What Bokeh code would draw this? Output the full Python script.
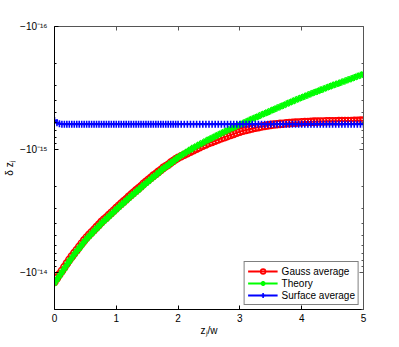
import numpy as np
from bokeh.plotting import figure
from bokeh.models import (Range1d, FixedTicker, LinearAxis, LogAxis,
                          CustomJSTickFormatter, Legend, LegendItem)
from bokeh.embed import file_html
from bokeh.resources import INLINE

# ---------------- data (|delta z_j| in units of 1e-16; actual values are negative) -------------
x_dense = np.round(np.arange(0.0, 2.0 - 1e-9, 0.04), 2)      # 50 samples, 0 .. 1.96
x_sparse = np.round(np.arange(2.0, 5.0 + 1e-9, 0.05), 2)     # 61 samples, 2 .. 5

gauss_dense = [118.9, 111.0, 103.5, 96.8, 90.4, 84.3, 78.9, 74.0, 69.6, 65.6,
               61.8, 58.2, 54.8, 51.9, 49.4, 47.1, 44.9, 42.8, 40.8, 38.8,
               37.1, 35.7, 34.1, 32.7, 31.3, 29.9, 28.7, 27.5, 26.4, 25.4,
               24.3, 23.3, 22.4, 21.5, 20.7, 19.9, 19.0, 18.3, 17.6, 17.0,
               16.3, 15.8, 15.2, 14.7, 14.1, 13.7, 13.3, 12.8, 12.4, 12.0]
gauss_sparse = [11.69, 11.35, 11.04, 10.72, 10.42, 10.12, 9.84, 9.59, 9.33, 9.10,
                8.85, 8.67, 8.47, 8.30, 8.11, 7.94, 7.78, 7.62, 7.46, 7.31,
                7.16, 7.05, 6.95, 6.84, 6.75, 6.64, 6.58, 6.50, 6.44, 6.37,
                6.31, 6.27, 6.24, 6.19, 6.17, 6.12, 6.10, 6.07, 6.05, 6.03,
                6.00, 5.98, 5.97, 5.96, 5.94, 5.93, 5.92, 5.92, 5.90, 5.90,
                5.89, 5.89, 5.88, 5.88, 5.86, 5.86, 5.86, 5.85, 5.85, 5.83, 5.83]

theory_dense = [121.9, 113.8, 106.2, 99.3, 92.7, 86.5, 80.9, 75.9, 71.4, 67.3,
                63.4, 59.7, 56.2, 53.2, 50.7, 48.3, 46.0, 43.9, 41.8, 39.8,
                38.1, 36.6, 35.0, 33.5, 32.1, 30.7, 29.4, 28.2, 27.1, 26.0,
                24.9, 23.9, 23.0, 22.1, 21.2, 20.4, 19.5, 18.8, 18.1, 17.4,
                16.7, 16.1, 15.5, 14.9, 14.3, 13.8, 13.4, 12.9, 12.5, 12.0]
theory_sparse = [11.61, 11.19, 10.79, 10.40, 10.02, 9.66, 9.38, 9.08, 8.81, 8.53,
                 8.28, 8.05, 7.82, 7.60, 7.38, 7.18, 6.98, 6.79, 6.62, 6.44,
                 6.27, 6.11, 5.94, 5.79, 5.64, 5.50, 5.36, 5.22, 5.09, 4.97,
                 4.84, 4.72, 4.60, 4.49, 4.38, 4.27, 4.16, 4.06, 3.96, 3.87,
                 3.78, 3.69, 3.61, 3.52, 3.44, 3.37, 3.29, 3.22, 3.15, 3.08,
                 3.01, 2.95, 2.89, 2.83, 2.77, 2.71, 2.66, 2.60, 2.54, 2.49, 2.44]

surface_dense = [5.80, 6.05, 6.18, 6.22, 6.22, 6.22, 6.22, 6.22, 6.22, 6.22,
                 6.22, 6.22, 6.22, 6.22, 6.22, 6.22, 6.22, 6.22, 6.22, 6.22,
                 6.22, 6.22, 6.22, 6.22, 6.22, 6.22, 6.22, 6.22, 6.22, 6.22,
                 6.22, 6.22, 6.22, 6.22, 6.22, 6.22, 6.22, 6.22, 6.22, 6.22,
                 6.22, 6.22, 6.22, 6.22, 6.22, 6.22, 6.22, 6.22, 6.22, 6.22]
surface_sparse = [6.22, 6.22, 6.22, 6.22, 6.22, 6.22, 6.22, 6.22, 6.22, 6.22,
                  6.22, 6.22, 6.22, 6.22, 6.22, 6.22, 6.22, 6.22, 6.22, 6.22,
                  6.22, 6.22, 6.22, 6.22, 6.22, 6.22, 6.22, 6.22, 6.22, 6.22,
                  6.22, 6.22, 6.22, 6.22, 6.22, 6.22, 6.22, 6.22, 6.22, 6.22,
                  6.22, 6.22, 6.22, 6.22, 6.22, 6.22, 6.22, 6.22, 6.22, 6.22,
                  6.22, 6.22, 6.22, 6.22, 6.22, 6.22, 6.22, 6.22, 6.22, 6.22, 6.22]

series_names = ["Gauss average", "Theory", "Surface average"]
series_colors = ["#ff0000", "#00ff00", "#0000ff"]
series_markers = ["circle", "asterisk", "cross"]

x_ticks = [0, 1, 2, 3, 4, 5]
y_major_ticks = [1e-16, 1e-15, 1e-14]
y_minor_ticks = [k * 10.0 ** e for e in (-16, -15, -14) for k in range(2, 10)]

x_label = "z\u2c7c/w"
y_label = "\u03b4 z\u2c7c"

# ---------------- plot -------------
FONT = "Liberation Sans"
UNIT = 1e-16

x_all = np.concatenate([x_dense, x_sparse])
series = [np.array(gauss_dense + gauss_sparse) * UNIT,
          np.array(theory_dense + theory_sparse) * UNIT,
          np.array(surface_dense + surface_sparse) * UNIT]

p = figure(frame_width=309, frame_height=283,
           x_range=Range1d(0, 5), y_range=Range1d(2.0e-14, 1e-16),
           y_axis_type="log",
           output_backend="svg", toolbar_location=None,
           min_border_left=44, min_border_right=26,
           min_border_top=26, min_border_bottom=22)
p.xgrid.visible = False
p.ygrid.visible = False
p.outline_line_color = None
p.background_fill_color = "white"
p.border_fill_color = "white"

ylab_code = r"""
const e = Math.round(Math.log10(tick));
const m = {"-": "\u207b", "0": "\u2070", "1": "\u00b9", "2": "\u00b2", "3": "\u00b3",
           "4": "\u2074", "5": "\u2075", "6": "\u2076", "7": "\u2077", "8": "\u2078", "9": "\u2079"};
return "\u221210" + String(e).split("").map(c => m[c]).join("");
"""
blank_code = "return '';"

def style(ax, color="black"):
    ax.axis_line_color = color
    ax.axis_line_width = 1
    ax.major_tick_line_color = color
    ax.minor_tick_line_color = color
    ax.major_tick_in = 4
    ax.major_tick_out = 0
    ax.minor_tick_in = 2
    ax.minor_tick_out = 0
    ax.major_label_text_font = FONT
    ax.major_label_text_font_size = "10px"
    ax.major_label_text_color = "black"
    ax.axis_label_text_font = FONT
    ax.axis_label_text_font_size = "10px"
    ax.axis_label_text_font_style = "normal"
    ax.axis_label_text_color = "black"

xa = p.xaxis[0]
style(xa)
xa.ticker = FixedTicker(ticks=x_ticks)
xa.minor_tick_line_color = None
xa.major_label_standoff = 4
xa.axis_label = x_label
xa.axis_label_standoff = 0

ya = p.yaxis[0]
style(ya)
ya.ticker = FixedTicker(ticks=y_major_ticks, minor_ticks=y_minor_ticks)
ya.formatter = CustomJSTickFormatter(code=ylab_code)
ya.major_label_standoff = 7
ya.axis_label = y_label
ya.axis_label_standoff = 2

top = LinearAxis(ticker=FixedTicker(ticks=x_ticks),
                 formatter=CustomJSTickFormatter(code=blank_code))
style(top, "#555555")
top.minor_tick_line_color = None
top.major_label_text_font_size = "0px"
top.major_label_standoff = 0
p.add_layout(top, "above")

right = LogAxis(ticker=FixedTicker(ticks=y_major_ticks, minor_ticks=y_minor_ticks),
                formatter=CustomJSTickFormatter(code=blank_code))
style(right, "#555555")
right.major_label_text_font_size = "0px"
right.major_label_standoff = 0
p.add_layout(right, "right")

items = []
for name, col, mk, yv in zip(series_names, series_colors, series_markers, series):
    ln = p.line(x_all, yv, line_color=col, line_width=2)
    sc = p.scatter(x_all, yv, marker=mk, size=7, line_color=col,
                   fill_color=None, line_width=1.6)
    items.append(LegendItem(label=name, renderers=[ln, sc]))

legend = Legend(items=items, location="bottom_right",
                label_text_font=FONT, label_text_font_size="10px",
                label_text_color="black",
                border_line_color="black", border_line_width=1,
                background_fill_color="white", background_fill_alpha=1,
                padding=3, spacing=0, margin=4,
                glyph_width=30, glyph_height=12, label_height=12,
                label_standoff=4)
p.add_layout(legend)

open("out.html", "w").write(file_html(p, INLINE, "plot"))
